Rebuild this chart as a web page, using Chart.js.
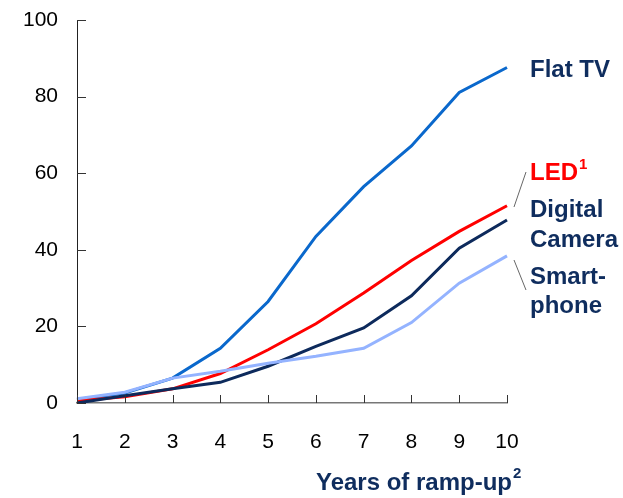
<!DOCTYPE html>
<html>
<head>
<meta charset="utf-8">
<script src="https://cdn.jsdelivr.net/npm/chart.js@4"></script>
<style>
  html, body { margin: 0; padding: 0; background: #fff; }
  #wrap { width: 623px; height: 498px; }
</style>
</head>
<body>
<div id="wrap"><canvas id="myChart" width="623" height="498"></canvas></div>
<script>
// years of ramp-up
const years = ["1", "2", "3", "4", "5", "6", "7", "8", "9", "10"];
const yTicks = [0, 20, 40, 60, 80, 100];

// series
const flatTV = [0.9, 2.6, 6.5, 14.3, 26.5, 43.5, 56.5, 67.1, 81.1, 87.6];
const led = [0.6, 1.6, 3.7, 7.7, 13.9, 20.7, 28.7, 37.2, 44.8, 51.5];
const camera = [0, 1.9, 3.7, 5.4, 9.6, 14.8, 19.6, 28.0, 40.4, 47.8];
const smartphone = [1.1, 2.8, 6.5, 8.3, 10.4, 12.2, 14.3, 21.0, 31.3, 38.4];

const navy = "#0f2d5e";
const font = "Liberation Sans, Arial, sans-serif";

function line(data, color) {
  return {
    data,
    borderColor: color,
    backgroundColor: color,
    borderWidth: 3,
    pointRadius: 0,
    fill: false,
    tension: 0
  };
}

// inward tick marks + labels on the right + axis title
const extras = {
  id: "extras",
  afterDraw(chart) {
    const ctx = chart.ctx;
    const x = chart.scales.x, y = chart.scales.y;
    const area = chart.chartArea;
    ctx.save();
    ctx.strokeStyle = "#333";
    ctx.lineWidth = 1;
    yTicks.forEach((v) => {
      const py = Math.round(y.getPixelForValue(v)) + 0.5;
      ctx.beginPath();
      ctx.moveTo(area.left, py);
      ctx.lineTo(area.left + 9, py);
      ctx.stroke();
    });
    years.forEach((_, i) => {
      const px = Math.round(x.getPixelForTick(i)) + 0.5;
      ctx.beginPath();
      ctx.moveTo(px, area.bottom);
      ctx.lineTo(px, area.bottom - 8);
      ctx.stroke();
    });

    // leader lines
    ctx.strokeStyle = "#666";
    ctx.beginPath();
    ctx.moveTo(514, 207); ctx.lineTo(526, 172);
    ctx.moveTo(514, 260); ctx.lineTo(526, 290);
    ctx.stroke();

    ctx.textBaseline = "middle";
    ctx.textAlign = "left";
    ctx.font = "bold 24px " + font;
    ctx.fillStyle = navy;
    ctx.fillText("Flat TV", 530, 70);
    ctx.fillText("Digital", 530, 210);
    ctx.fillText("Camera", 530, 240);
    ctx.fillText("Smart-", 530, 277);
    ctx.fillText("phone", 530, 306);
    ctx.fillStyle = "#ff0000";
    ctx.fillText("LED", 530, 173);
    let w = ctx.measureText("LED").width;
    ctx.font = "bold 15px " + font;
    ctx.fillText("1", 530 + w + 1, 165);

    // x axis title
    ctx.font = "bold 24px " + font;
    ctx.fillStyle = navy;
    ctx.textAlign = "right";
    ctx.fillText("Years of ramp-up", 512, 483);
    ctx.font = "bold 15px " + font;
    ctx.textAlign = "left";
    ctx.fillText("2", 513, 474);
    ctx.restore();
  }
};

new Chart(document.getElementById("myChart"), {
  type: "line",
  data: {
    labels: years,
    datasets: [
      line(smartphone, "#94b3ff"),
      line(camera, "#0d2a5c"),
      line(led, "#ff0000"),
      line(flatTV, "#0a68cc")
    ]
  },
  options: {
    responsive: false,
    animation: false,
    layout: { padding: { left: 0, right: 116, top: 20, bottom: 0 } },
    plugins: { legend: { display: false }, tooltip: { enabled: false } },
    scales: {
      x: {
        offset: false,
        afterFit: (s) => { s.height = 95; s.paddingLeft = 0; s.paddingRight = 0; },
        grid: { display: false, drawTicks: false },
        border: { display: true, color: "#777", width: 1.5 },
        ticks: { color: "#000", padding: 27, maxRotation: 0, font: { family: font, size: 21 } }
      },
      y: {
        min: 0,
        max: 100,
        afterFit: (s) => { s.width = 77; s.paddingTop = 0; s.paddingBottom = 0; },
        afterBuildTicks: (s) => { s.ticks = yTicks.map((v) => ({ value: v })); },
        grid: { display: false, drawTicks: false },
        border: { display: true, color: "#222", width: 1 },
        ticks: { color: "#000", padding: 19, font: { family: font, size: 21 } }
      }
    }
  },
  plugins: [extras]
});
</script>
</body>
</html>
